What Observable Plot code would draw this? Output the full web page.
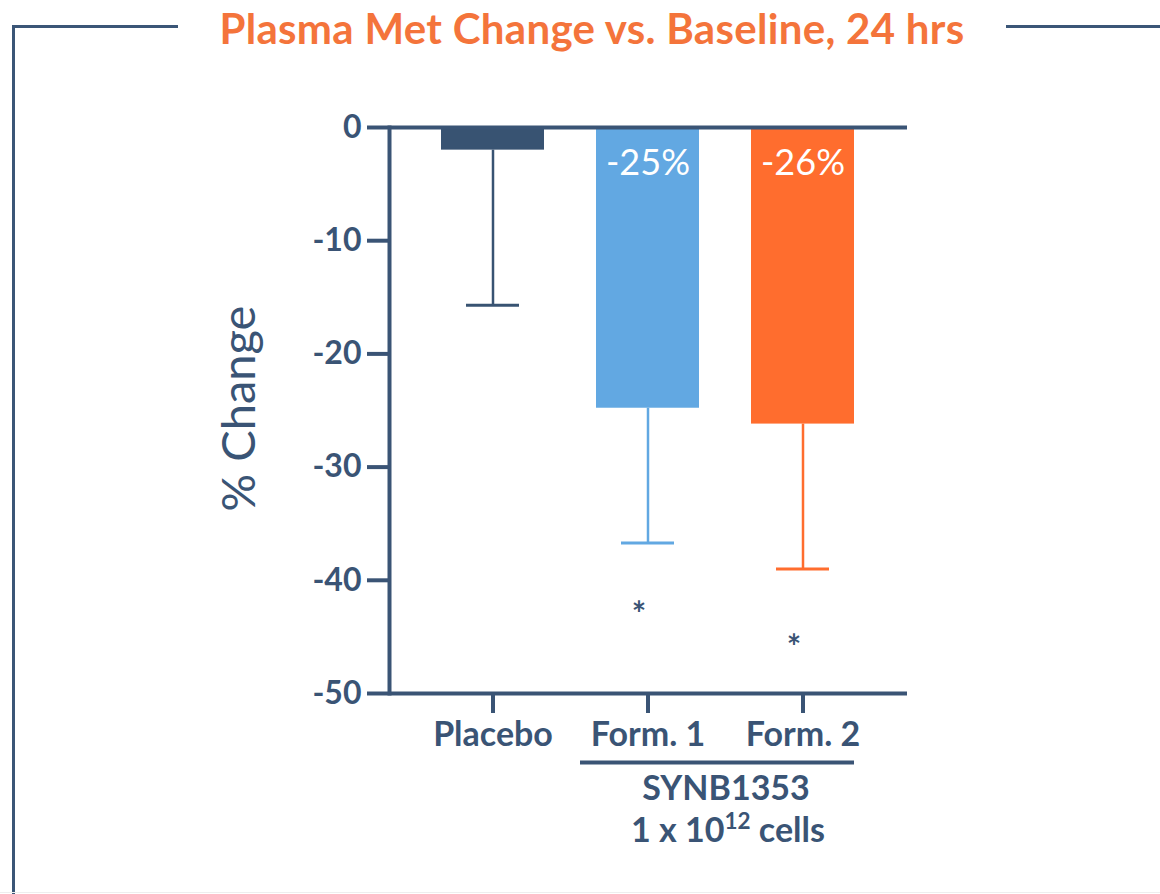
<!DOCTYPE html>
<html>
<head>
<meta charset="utf-8">
<script src="https://cdn.jsdelivr.net/npm/d3@7"></script>
<script src="https://cdn.jsdelivr.net/npm/@observablehq/plot@0.6"></script>
<style>
  html, body { margin: 0; padding: 0; background: #fff; }
  #wrap { position: relative; width: 1160px; height: 894px; overflow: hidden; background: #fff; }
  #frame { position: absolute; left: 12px; top: 25px; width: 1200px; height: 900px;
           border-left: 3px solid #3b5677; border-top: 3px solid #3b5677; }
  #title { position: absolute; left: 178px; width: 828px; top: 0; height: 56px; line-height: 56px;
           background: #fff; text-align: center; color: #f4743b; font-family: Lato, sans-serif;
           font-weight: 700; font-size: 42px; letter-spacing: 0.3px; white-space: nowrap; }
  #chart { position: absolute; left: 0; top: 0; }
  #bottomline { position: absolute; left: 0; right: 0; top: 892px; height: 1px; background: #eeeeee; }
</style>
</head>
<body>
<div id="wrap">
  <div id="frame"></div>
  <div id="title"></div>
  <div id="chart"></div>
  <div id="bottomline"></div>
</div>
<script>
// ---- data ----
const titleText = "Plasma Met Change vs. Baseline, 24 hrs";
const yLabel = "% Change";
const groups = ["Placebo", "Form. 1", "Form. 2"];
const means = [-2.0, -24.8, -26.2];
const errLow = [-15.7, -36.7, -39.0];
const barColors = ["#385372", "#62a8e2", "#ff6d2e"];
const valueLabels = [null, "-25%", "-26%"];
const starValues = [null, -42.3, -45.2];
const yTicks = [0, -10, -20, -30, -40, -50];
const bracketGroups = ["Form. 1", "Form. 2"];
const bracketLine1 = "SYNB1353";
const bracketLine2 = "1 x 10¹² cells";

const navy = "#3a5475";
document.getElementById("title").textContent = titleText;

const rows = groups.map((g, i) => ({group: g, mean: means[i], low: errLow[i], vlabel: valueLabels[i], star: starValues[i]}));
const bracket = [{from: bracketGroups[0], to: bracketGroups[1]}];

const chart = Plot.plot({
  width: 1160,
  height: 894,
  marginLeft: 389,
  marginRight: 253,
  marginTop: 127,
  marginBottom: 201,
  style: {fontFamily: "Lato, sans-serif", color: navy, background: "transparent"},
  x: {domain: groups, padding: 0.335},
  y: {domain: [-50, 0]},
  color: {domain: groups, range: barColors},
  marks: [
    Plot.barY(rows, {x: "group", y: "mean", fill: "group"}),
    Plot.ruleX(rows, {x: "group", y1: "mean", y2: "low", stroke: "group", strokeWidth: 2.5}),
    Plot.tickY(rows, {x: "group", y: "low", stroke: "group", strokeWidth: 3, insetLeft: 25, insetRight: 25}),
    Plot.ruleY([0], {stroke: navy, strokeWidth: 4}),
    Plot.ruleY([-50], {stroke: navy, strokeWidth: 4}),
    Plot.frame({anchor: "left", stroke: navy, strokeWidth: 4}),
    Plot.axisY({ticks: yTicks, tickFormat: d => String(d), tickSize: 22, tickPadding: 6,
                fontSize: 32, fontWeight: 700, strokeWidth: 4, stroke: navy, fill: navy, label: null}),
    Plot.axisX({tickSize: 20, tickPadding: 8, fontSize: 34, fontWeight: 700, strokeWidth: 4,
                stroke: navy, fill: navy, label: null}),
    Plot.text(rows.filter(d => d.vlabel), {x: "group", y: 0, dy: 36, text: "vlabel", fill: "white", fontSize: 36}),
    Plot.text(rows.filter(d => d.star != null), {x: "group", y: "star", text: () => "*", dx: -9, dy: 9, fontSize: 34, fontWeight: 700, fill: navy}),
    Plot.ruleY(bracket, {y: () => -50, x1: "from", x2: "to", dy: 69, insetLeft: -16, stroke: navy, strokeWidth: 4}),
    Plot.text([bracketLine1], {x: () => bracketGroups[0], dx: 78, frameAnchor: "bottom", lineAnchor: "middle", dy: 96,
              fontSize: 34, fontWeight: 700, fill: navy}),
    Plot.text([bracketLine2], {x: () => bracketGroups[0], dx: 80, frameAnchor: "bottom", lineAnchor: "middle", dy: 138,
              fontSize: 34, fontWeight: 700, fill: navy}),
    Plot.text([yLabel], {frameAnchor: "left", textAnchor: "middle", lineAnchor: "middle", rotate: -90, dx: -150, dy: -2,
              fontSize: 47, fontWeight: 400, fill: navy, style: "letter-spacing: 2px"})
  ]
});
document.getElementById("chart").appendChild(chart);

// render the exponent of "10¹²" as a raised tspan
d3.select(chart).selectAll("text").each(function() {
  if (this.textContent === bracketLine2) {
    const [pre, post] = bracketLine2.split("¹²");
    const sel = d3.select(this).text(null);
    sel.append("tspan").text(pre);
    sel.append("tspan").attr("dy", "-13").attr("font-size", "0.66em").text("12");
    sel.append("tspan").attr("dy", "13").text(post);
  }
});
</script>
</body>
</html>
